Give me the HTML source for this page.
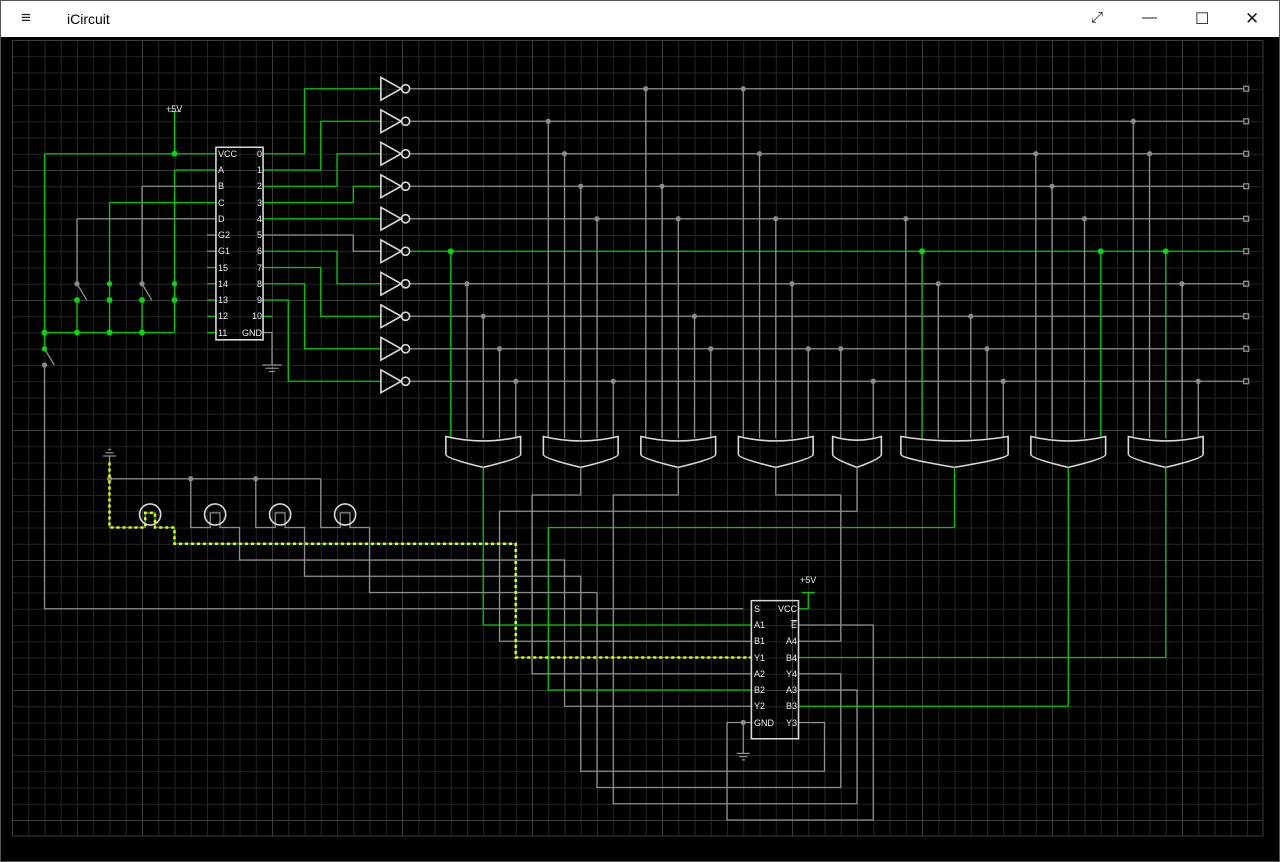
<!DOCTYPE html>
<html><head><meta charset="utf-8"><style>
html,body{margin:0;padding:0;width:1280px;height:862px;overflow:hidden;background:#000;}
#tb{position:absolute;left:1px;top:1px;width:1278px;height:36px;background:#fff;font-family:"Liberation Sans",sans-serif;}
#tb .t{position:absolute;left:66px;top:10px;font-size:14px;color:#000;}
#tb .i{position:absolute;top:8px;font-size:15px;color:#222;}
svg{position:absolute;left:0;top:0;}
svg *{vector-effect:non-scaling-stroke;}
.w,.w *{fill:none;stroke-width:1.3;stroke-linejoin:miter;}
.g,.g *{stroke:#8c8c8c;}
.n{stroke:#00c800;}
.c,.c *{fill:none;stroke:#d8d8d8;stroke-width:1.6;}
.y{fill:none;stroke:#f0f000;stroke-width:2.6;stroke-dasharray:3 3;}
text{font-family:"Liberation Sans",sans-serif;font-size:9px;fill:#eee;}
</style></head><body>
<div style="position:absolute;left:0;top:0;width:1280px;height:862px;border:1px solid #555;box-sizing:border-box;"></div>
<div id="tb"><div class="i" style="left:20px;top:7px;font-size:17px">&#8801;</div><div class="t">iCircuit</div>
<div class="i" style="left:1090px">&#10530;</div><div class="i" style="left:1141px">&#8212;</div><div class="i" style="left:1194px;font-size:16px">&#9744;</div><div class="i" style="left:1244px;font-size:17px">&#10005;</div></div>
<svg width="1280" height="862" viewBox="0 0 1280 862" style="top:0">
<defs>
<pattern id="pm" x="12" y="40" width="16.25" height="16.25" patternUnits="userSpaceOnUse"><path d="M0.5 0V16.25M0 0.5H16.25" stroke="#262626" stroke-width="1" fill="none"/></pattern>
<pattern id="pM" x="12" y="40" width="130" height="130" patternUnits="userSpaceOnUse"><path d="M0.5 0V130M0 0.5H130" stroke="#3c3c3c" stroke-width="1" fill="none"/></pattern>
</defs>
<rect x="12" y="40" width="1251" height="796" fill="url(#pm)"/>
<rect x="12" y="40" width="1251" height="796" fill="url(#pM)"/>
<rect x="12.5" y="40.5" width="1250.5" height="795.5" fill="none" stroke="#3c3c3c"/>
<g transform="translate(12 40) scale(16.25)">
<path class="w n" d="M10 4.4V7M2 7H12.5M2 7V19M2 18H10M10 8H12.5M10 8V18M6 10H12.5M6 10V18M8 16V18M4 16V18"/>
<path class="w g" d="M8 9H12.5M8 9V15M8 15L8.6 16M4 11H12.5M4 11V15M4 15L4.6 16M2 19L2.6 20M2 20V35H45"/>
<path class="w n" d="M9.6 4.4H10.4"/>
<path class="w g" d="M12 12H12.55M12 13H12.55"/>
<path class="w n" d="M12 14H12.55M12 15H12.55M12 16H12.55M12 17H12.55M12 18H12.55"/>
<path class="w n" d="M15.45 7H18V3H22.7M15.45 8H19V5H22.7M15.45 9H20V7H22.7M15.45 10H21V9H22.7M15.45 11H22.7M15.45 13H20V15H22.7M15.45 14H19V17H22.7M15.45 15H18V19H22.7M15.45 16H17V21H22.7M15.45 17H16"/>
<path class="w g" d="M15.45 12H21V13H22.7M15.45 18H16V20"/>
<path class="w g" d="M15.4 20H16.6M15.6 20.2H16.4M15.8 20.4H16.2"/>
<path class="w g" d="M24.5 3H75.8M24.5 5H75.8M24.5 7H75.8M24.5 9H75.8M24.5 11H75.8M24.5 15H75.8M24.5 17H75.8M24.5 19H75.8M24.5 21H75.8"/>
<path class="w n" d="M24.5 13H75.8"/>
<g class="w g"><rect x="75.8" y="2.85" width="0.3" height="0.3"/><rect x="75.8" y="4.85" width="0.3" height="0.3"/><rect x="75.8" y="6.85" width="0.3" height="0.3"/><rect x="75.8" y="8.85" width="0.3" height="0.3"/><rect x="75.8" y="10.85" width="0.3" height="0.3"/><rect x="75.8" y="12.85" width="0.3" height="0.3"/><rect x="75.8" y="14.85" width="0.3" height="0.3"/><rect x="75.8" y="16.85" width="0.3" height="0.3"/><rect x="75.8" y="18.85" width="0.3" height="0.3"/><rect x="75.8" y="20.85" width="0.3" height="0.3"/></g>
<g class="c">
<path d="M22.7 2.3V3.7L23.95 3Z"/><circle cx="24.22" cy="3" r="0.25"/>
<path d="M22.7 4.3V5.7L23.95 5Z"/><circle cx="24.22" cy="5" r="0.25"/>
<path d="M22.7 6.3V7.7L23.95 7Z"/><circle cx="24.22" cy="7" r="0.25"/>
<path d="M22.7 8.3V9.7L23.95 9Z"/><circle cx="24.22" cy="9" r="0.25"/>
<path d="M22.7 10.3V11.7L23.95 11Z"/><circle cx="24.22" cy="11" r="0.25"/>
<path d="M22.7 12.3V13.7L23.95 13Z"/><circle cx="24.22" cy="13" r="0.25"/>
<path d="M22.7 14.3V15.7L23.95 15Z"/><circle cx="24.22" cy="15" r="0.25"/>
<path d="M22.7 16.3V17.7L23.95 17Z"/><circle cx="24.22" cy="17" r="0.25"/>
<path d="M22.7 18.3V19.7L23.95 19Z"/><circle cx="24.22" cy="19" r="0.25"/>
<path d="M22.7 20.3V21.7L23.95 21Z"/><circle cx="24.22" cy="21" r="0.25"/>
</g>
<path class="w g" d="M28 15V24.5M29 17V24.5M30 19V24.5M31 21V24.5M33 5V24.5M34 7V24.5M35 9V24.5M36 11V24.5M37 21V24.5M39 3V24.5M40 9V24.5M41 11V24.5M42 17V24.5M43 19V24.5M45 3V24.5M46 7V24.5M47 11V24.5M48 15V24.5M49 19V24.5M51 19V24.5M53 21V24.5M55 11V24.5M57 15V24.5M59 17V24.5M60 19V24.5M61 21V24.5M63 7V24.5M64 9V24.5M66 11V24.5M69 5V24.5M70 7V24.5M72 15V24.5M73 21V24.5"/>
<path class="w n" d="M27 13V24.5M56 13V24.5M67 13V24.5M71 13V24.5"/>
<g fill="#8c8c8c">
<circle cx="28" cy="15" r="0.16"/><circle cx="29" cy="17" r="0.16"/><circle cx="30" cy="19" r="0.16"/><circle cx="31" cy="21" r="0.16"/><circle cx="33" cy="5" r="0.16"/><circle cx="34" cy="7" r="0.16"/><circle cx="35" cy="9" r="0.16"/><circle cx="36" cy="11" r="0.16"/><circle cx="37" cy="21" r="0.16"/><circle cx="39" cy="3" r="0.16"/><circle cx="40" cy="9" r="0.16"/><circle cx="41" cy="11" r="0.16"/><circle cx="42" cy="17" r="0.16"/><circle cx="43" cy="19" r="0.16"/><circle cx="45" cy="3" r="0.16"/><circle cx="46" cy="7" r="0.16"/><circle cx="47" cy="11" r="0.16"/><circle cx="48" cy="15" r="0.16"/><circle cx="49" cy="19" r="0.16"/><circle cx="51" cy="19" r="0.16"/><circle cx="53" cy="21" r="0.16"/><circle cx="55" cy="11" r="0.16"/><circle cx="57" cy="15" r="0.16"/><circle cx="59" cy="17" r="0.16"/><circle cx="60" cy="19" r="0.16"/><circle cx="61" cy="21" r="0.16"/><circle cx="63" cy="7" r="0.16"/><circle cx="64" cy="9" r="0.16"/><circle cx="66" cy="11" r="0.16"/><circle cx="69" cy="5" r="0.16"/><circle cx="70" cy="7" r="0.16"/><circle cx="72" cy="15" r="0.16"/><circle cx="73" cy="21" r="0.16"/>
<circle cx="8" cy="15" r="0.16"/><circle cx="4" cy="15" r="0.16"/><circle cx="2" cy="20" r="0.16"/><circle cx="11" cy="27" r="0.16"/><circle cx="15" cy="27" r="0.16"/><circle cx="6" cy="27" r="0.16"/><circle cx="45" cy="42" r="0.16"/>
</g>
<g fill="#00e000">
<circle cx="27" cy="13" r="0.18"/><circle cx="56" cy="13" r="0.18"/><circle cx="67" cy="13" r="0.18"/><circle cx="71" cy="13" r="0.18"/>
<circle cx="10" cy="7" r="0.18"/><circle cx="2" cy="18" r="0.18"/><circle cx="4" cy="18" r="0.18"/><circle cx="6" cy="18" r="0.18"/><circle cx="8" cy="18" r="0.18"/>
<circle cx="4" cy="16" r="0.18"/><circle cx="6" cy="16" r="0.18"/><circle cx="8" cy="16" r="0.18"/><circle cx="10" cy="16" r="0.18"/><circle cx="6" cy="15" r="0.16"/><circle cx="10" cy="15" r="0.16"/><circle cx="2" cy="19" r="0.16"/>
</g>
<g class="c">
<path d="M26.7 24.4Q29 24.95 31.3 24.4V25.5Q31.3 25.75 29 26.3Q26.7 25.75 26.7 25.5Z"/>
<path d="M32.7 24.4Q35 24.95 37.3 24.4V25.5Q37.3 25.75 35 26.3Q32.7 25.75 32.7 25.5Z"/>
<path d="M38.7 24.4Q41 24.95 43.3 24.4V25.5Q43.3 25.75 41 26.3Q38.7 25.75 38.7 25.5Z"/>
<path d="M44.7 24.4Q47 24.95 49.3 24.4V25.5Q49.3 25.75 47 26.3Q44.7 25.75 44.7 25.5Z"/>
<path d="M50.5 24.4Q52 24.85 53.5 24.4V25.5Q53.5 25.75 52 26.3Q50.5 25.75 50.5 25.5Z"/>
<path d="M54.7 24.4Q58 24.95 61.3 24.4V25.5Q61.3 25.75 58 26.3Q54.7 25.75 54.7 25.5Z"/>
<path d="M62.7 24.4Q65 24.95 67.3 24.4V25.5Q67.3 25.75 65 26.3Q62.7 25.75 62.7 25.5Z"/>
<path d="M68.7 24.4Q71 24.95 73.3 24.4V25.5Q73.3 25.75 71 26.3Q68.7 25.75 68.7 25.5Z"/>
</g>
<path class="w n" d="M29 26.3V36H45.5M58 26.3V30H33V40H45.5M65 26.3V41H48.4M71 26.3V38H48.4M49 34V35H48.4M48.6 34H49.4"/>
<path class="w g" d="M35 26.3V28H32V39H45.5M41 26.3V28H37V47H52V40H48.4M47 26.3V28H51V37H48.4M52 26.3V29H30V37H45.5M48.4 36H53V48H44V42H45.5M45 42V43.9M44.6 43.9H45.4M44.75 44.1H45.25M44.9 44.3H45.1"/>
<path class="w g" d="M6 27H19M11 27V30H12.2V29.1H12.8V30H14V32H34V41H45.5M15 27V30H16.2V29.1H16.8V30H18V33H35V45H50V42H48.4M19 27V30H20.2V29.1H20.8V30H22V34H36V46H51V39H48.4"/>
<path class="w g" d="M5.6 25.6H6.4M5.75 25.4H6.25M5.9 25.2H6.1M6 25.6V26"/>
<path class="w n" d="M6 26V30H8.2V29.1H8.8V30H10V31H31V38H45.5"/>
<path class="y" d="M6 26V30H8.2V29.1H8.8V30H10V31H31V38H45.5"/>
<g class="c"><circle cx="8.5" cy="29.2" r="0.65"/><circle cx="12.5" cy="29.2" r="0.65"/><circle cx="16.5" cy="29.2" r="0.65"/><circle cx="20.5" cy="29.2" r="0.65"/></g>
<rect class="c" x="12.55" y="6.6" width="2.9" height="11.85"/>
<rect class="c" x="45.5" y="34.5" width="2.9" height="8.5"/>
</g>
<text x="166" y="112" font-size="8">+5V</text>
<text x="800" y="583" font-size="8">+5V</text>
<g>
<text x="218" y="157">VCC</text><text x="218" y="173">A</text><text x="218" y="189">B</text><text x="218" y="206">C</text><text x="218" y="222">D</text><text x="218" y="238">G2</text><text x="218" y="254">G1</text><text x="218" y="271">15</text><text x="218" y="287">14</text><text x="218" y="303">13</text><text x="218" y="319">12</text><text x="218" y="336">11</text>
</g>
<g text-anchor="end">
<text x="262" y="157">0</text><text x="262" y="173">1</text><text x="262" y="189">2</text><text x="262" y="206">3</text><text x="262" y="222">4</text><text x="262" y="238">5</text><text x="262" y="254">6</text><text x="262" y="271">7</text><text x="262" y="287">8</text><text x="262" y="303">9</text><text x="262" y="319">10</text><text x="262" y="336">GND</text>
</g>
<g>
<text x="754" y="612">S</text><text x="754" y="628">A1</text><text x="754" y="644">B1</text><text x="754" y="661">Y1</text><text x="754" y="677">A2</text><text x="754" y="693">B2</text><text x="754" y="709">Y2</text><text x="754" y="726">GND</text>
</g>
<g text-anchor="end">
<text x="797" y="612">VCC</text><text x="797" y="628" style="text-decoration:overline">E</text><text x="797" y="644">A4</text><text x="797" y="661">B4</text><text x="797" y="677">Y4</text><text x="797" y="693">A3</text><text x="797" y="709">B3</text><text x="797" y="726">Y3</text>
</g>
</svg>
</body></html>
